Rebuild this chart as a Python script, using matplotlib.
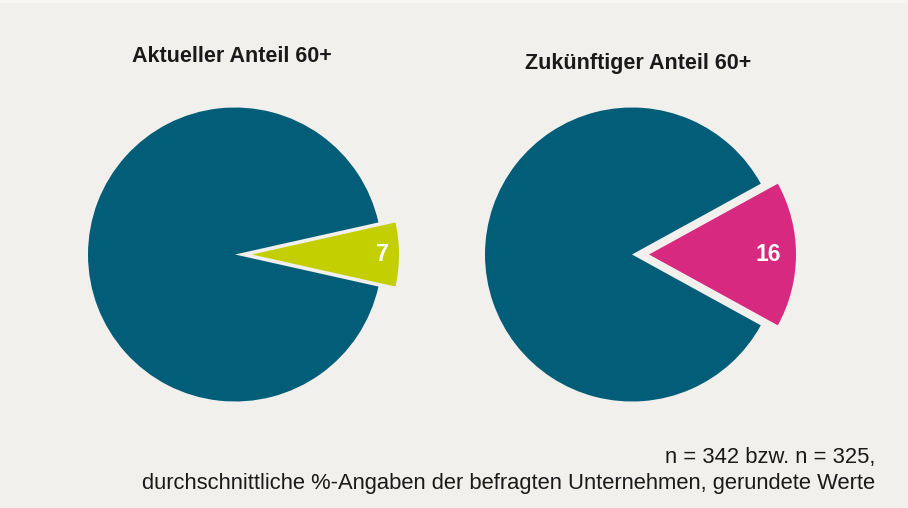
import matplotlib.pyplot as plt
from matplotlib.patches import Rectangle

# Shares of employees aged 60+ (percent, rounded)
titles = ["Aktueller Anteil 60+", "Zukünftiger Anteil 60+"]
share_60plus = [7, 16]
share_rest = [93, 84]
highlight_colors = ["#c3cf00", "#d6297f"]
base_color = "#025e78"
footnote = ["n = 342 bzw. n = 325,",
            "durchschnittliche %-Angaben der befragten Unternehmen, gerundete Werte"]

W, H = 908, 508
bg = "#f1f0ed"

plt.rcParams['font.family'] = ['Liberation Sans', 'DejaVu Sans']

fig = plt.figure(figsize=(W / 100, H / 100), dpi=100, facecolor=bg)
ax = fig.add_axes([0, 0, 1, 1])
ax.set_xlim(0, W)
ax.set_ylim(0, H)
ax.set_aspect('equal')
ax.axis('off')

# thin light strip along the top edge
ax.add_patch(Rectangle((0, H - 3), W, 3, facecolor="#f7f6f4", edgecolor='none', zorder=0))

centers = [(235, H - 254.5), (632, H - 254.5)]
radius = 147
explode_px = 17
pct_dist = [0.89, 0.81]
title_pos = [(232, H - 57), (638, H - 63)]

for i in range(2):
    vals = [share_60plus[i], share_rest[i]]
    start = -share_60plus[i] * 3.6 / 2
    ax.pie(vals, center=centers[i], radius=radius,
           colors=[highlight_colors[i], base_color],
           explode=[explode_px, 0],
           startangle=start, counterclock=True,
           autopct=lambda p: f"{p:.0f}" if p < 50 else "",
           pctdistance=pct_dist[i],
           textprops=dict(color="white", fontsize=16.5, fontweight='bold'),
           wedgeprops=dict(linewidth=0),
           frame=True)
    ax.text(title_pos[i][0], title_pos[i][1], titles[i], ha='center', va='center',
            fontsize=15.5, fontweight='bold', color="#1a1a1a")

ax.set_xlim(0, W)
ax.set_ylim(0, H)
ax.axis('off')

ax.text(875, H - 457, footnote[0], ha='right', va='center', fontsize=15.8, color="#1a1a1a")
ax.text(875, H - 483, footnote[1], ha='right', va='center', fontsize=15.8, color="#1a1a1a")

fig.savefig("out.png", dpi=100, facecolor=bg)
